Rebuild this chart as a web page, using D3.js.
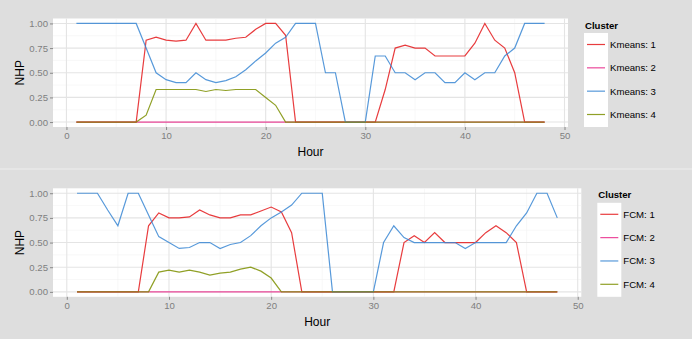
<!DOCTYPE html>
<html>
<head>
<meta charset="utf-8">
<script src="https://cdn.jsdelivr.net/npm/d3@7"></script>
<style>
  body { margin: 0; background: #dedede; }
  svg { display: block; font-family: "Liberation Sans", Arial, sans-serif; }
</style>
</head>
<body>
<svg id="chart" width="692" height="339"></svg>
<script>
const hours = d3.range(1, 49)

// Kmeans clusters (NHP per hour)
const kmeans1 = [0,0,0,0,0,0,0,0.83,0.86,0.83,0.82,0.83,1,0.83,0.83,0.83,0.85,0.86,0.94,1,1,0.88,0,0,0,0,0,0,0,0,0,0.33,0.75,0.78,0.75,0.75,0.67,0.67,0.67,0.67,0.8,1,0.83,0.75,0.5,0,0,0]
const kmeans2 = hours.map(() => 0)
const kmeans3 = [1,1,1,1,1,1,1,0.75,0.5,0.43,0.4,0.4,0.5,0.43,0.4,0.42,0.46,0.53,0.62,0.7,0.8,0.86,1,1,1,0.5,0.5,0,0,0,0.67,0.67,0.5,0.5,0.43,0.5,0.5,0.4,0.4,0.5,0.43,0.5,0.5,0.67,0.75,1,1,1]
const kmeans4 = [0,0,0,0,0,0,0,0.07,0.33,0.33,0.33,0.33,0.33,0.31,0.33,0.32,0.33,0.33,0.33,0.25,0.17,0,0,0,0,0,0,0,0,0,0,0,0,0,0,0,0,0,0,0,0,0,0,0,0,0,0,0]

// FCM clusters
const fcm1 = [0,0,0,0,0,0,0,0.67,0.8,0.75,0.75,0.76,0.83,0.78,0.75,0.75,0.78,0.78,0.82,0.86,0.81,0.6,0,0,0,0,0,0,0,0,0,0,0.5,0.57,0.5,0.6,0.5,0.5,0.5,0.5,0.6,0.67,0.6,0.5,0,0,0,0]
const fcm2 = hours.map(() => 0)
const fcm3 = [1,1,1,0.83,0.67,1,1,0.78,0.56,0.5,0.44,0.45,0.5,0.5,0.44,0.48,0.5,0.57,0.67,0.75,0.81,0.88,1,1,1,0,0,0,0,0,0.5,0.67,0.55,0.5,0.5,0.5,0.5,0.5,0.44,0.5,0.5,0.5,0.5,0.67,0.8,1,1,0.75]
const fcm4 = [0,0,0,0,0,0,0,0,0.2,0.22,0.2,0.22,0.2,0.17,0.19,0.2,0.23,0.25,0.21,0.14,0,0,0,0,0,0,0,0,0,0,0,0,0,0,0,0,0,0,0,0,0,0,0,0,0,0,0,0]

const xTicks = [0, 10, 20, 30, 40, 50]
const yTicks = [0, 0.25, 0.5, 0.75, 1]
const colors = ['#e41a1c', '#e7298a', '#3a87d4', '#7d8f00']

const svg = d3.select('#chart')

function drawPanel(top, right, method, series) {
  const g = svg.append('g').attr('transform', `translate(0,${top})`)
  const ph = 108.5
  const x = d3.scaleLinear().domain([-1.35, 50.35]).range([53, right])
  const y = d3.scaleLinear().domain([-0.05, 1.05]).range([ph, 0])

  g.append('rect').attr('x', 53).attr('y', 0)
    .attr('width', right - 53).attr('height', ph).attr('fill', '#fff')

  // minor grid
  const minorY = [0.125, 0.375, 0.625, 0.875]
  const minorX = [5, 15, 25, 35, 45]
  g.selectAll('.minory').data(minorY).join('line')
    .attr('x1', 53).attr('x2', right)
    .attr('y1', d => y(d)).attr('y2', d => y(d))
    .attr('stroke', '#f3f3f3').attr('stroke-width', 0.6)
  g.selectAll('.minorx').data(minorX).join('line')
    .attr('y1', 0).attr('y2', ph)
    .attr('x1', d => x(d)).attr('x2', d => x(d))
    .attr('stroke', '#f3f3f3').attr('stroke-width', 0.6)

  // major grid
  g.selectAll('.majory').data(yTicks).join('line')
    .attr('x1', 53).attr('x2', right)
    .attr('y1', d => y(d)).attr('y2', d => y(d))
    .attr('stroke', '#e4e4e4').attr('stroke-width', 1.1)
  g.selectAll('.majorx').data(xTicks).join('line')
    .attr('y1', 0).attr('y2', ph)
    .attr('x1', d => x(d)).attr('x2', d => x(d))
    .attr('stroke', '#e4e4e4').attr('stroke-width', 1.1)

  const line = d3.line().x((d, i) => x(hours[i])).y(d => y(d))
  series.forEach((s, i) => {
    g.append('path').datum(s)
      .attr('d', line)
      .attr('fill', 'none')
      .attr('stroke', colors[i])
      .attr('stroke-opacity', 0.85)
      .attr('stroke-width', 1.2)
  })

  // axes
  const yAxis = g.append('g').attr('transform', 'translate(53,0)')
    .call(d3.axisLeft(y).tickValues(yTicks).tickFormat(d3.format('.2f')).tickSize(3).tickPadding(2))
  const xAxis = g.append('g').attr('transform', `translate(0,${ph})`)
    .call(d3.axisBottom(x).tickValues(xTicks).tickSize(3).tickPadding(2))
  ;[yAxis, xAxis].forEach(a => {
    a.select('.domain').remove()
    a.selectAll('line').attr('stroke', '#888')
    a.selectAll('text').attr('fill', '#7f7f7f').style('font-size', '9.6px')
  })

  g.append('text').attr('x', (53 + right) / 2).attr('y', ph + 29)
    .attr('text-anchor', 'middle').style('font-size', '12px').text('Hour')
  g.append('text')
    .attr('transform', `translate(24,${ph / 2}) rotate(-90)`)
    .attr('text-anchor', 'middle').style('font-size', '12px').text('NHP')

  // legend
  const lx = right + 16
  g.append('text').attr('x', lx + 1).attr('y', 10)
    .style('font-size', '9.6px').style('font-weight', 'bold').text('Cluster')
  g.append('rect').attr('x', lx).attr('y', 14.5)
    .attr('width', 24).attr('height', 94).attr('fill', '#fff')
  const items = [1, 2, 3, 4]
  const ly = d3.scalePoint().domain(items).range([26, 96])
  g.selectAll('.key').data(items).join('line')
    .attr('x1', lx + 3).attr('x2', lx + 21)
    .attr('y1', d => ly(d)).attr('y2', d => ly(d))
    .attr('stroke', (d, i) => colors[i]).attr('stroke-opacity', 0.85).attr('stroke-width', 1.2)
  g.selectAll('.lab').data(items).join('text')
    .attr('x', lx + 26).attr('y', d => ly(d) + 3.5)
    .style('font-size', '9.6px')
    .text(d => `${method}: ${d}`)
}

drawPanel(18.5, 568, 'Kmeans', [kmeans1, kmeans2, kmeans3, kmeans4])
svg.append('line').attr('x1', 0).attr('x2', 692).attr('y1', 169).attr('y2', 169)
  .attr('stroke', '#eeeeee').attr('stroke-width', 1)
drawPanel(188.3, 581.3, 'FCM', [fcm1, fcm2, fcm3, fcm4])
</script>
</body>
</html>
